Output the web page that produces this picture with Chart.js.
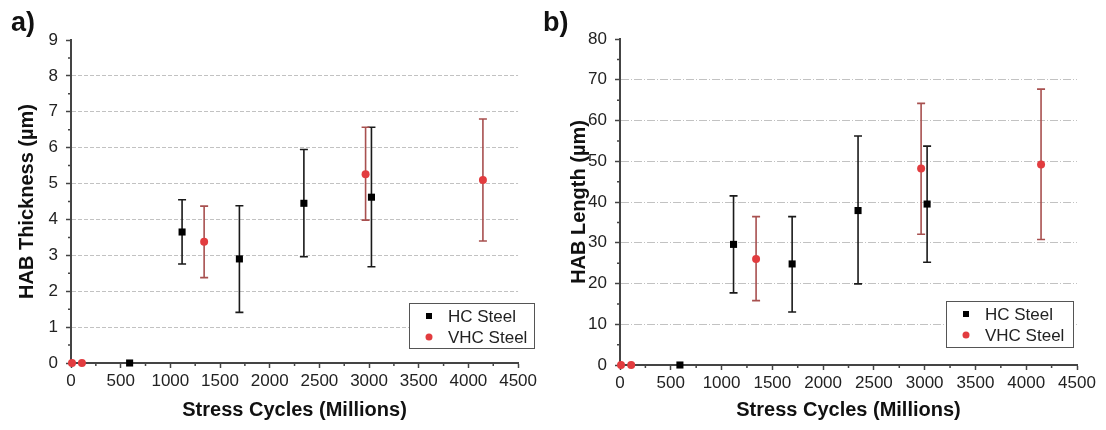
<!DOCTYPE html>
<html>
<head>
<meta charset="utf-8">
<script src="https://cdn.jsdelivr.net/npm/chart.js@4.4.1/dist/chart.umd.min.js"></script>
<style>
  html, body { margin: 0; padding: 0; background: #fff; }
  #wrap { position: relative; width: 1106px; height: 430px; }
  #wrap canvas { position: absolute; top: 0; }
</style>
</head>
<body>
<div id="wrap">
  <canvas id="chartA" width="540" height="430" style="left:0;width:540px;height:430px"></canvas>
  <canvas id="chartB" width="566" height="430" style="left:540px;width:566px;height:430px"></canvas>
</div>
<script>
// ---- data ----
const hcCycles = [590, 1118, 1695, 2344, 3024];
const vhcCycles = [10, 110, 1340, 2965, 4146];

// a) HAB thickness (um)
const hcThickness = [0, 3.65, 2.9, 4.45, 4.62];
const hcThicknessLow = [null, 2.76, 1.41, 2.96, 2.68];
const hcThicknessHigh = [null, 4.55, 4.38, 5.95, 6.57];
const vhcThickness = [0, 0, 3.38, 5.26, 5.1];
const vhcThicknessLow = [null, null, 2.38, 3.98, 3.4];
const vhcThicknessHigh = [null, null, 4.37, 6.57, 6.8];

// b) HAB length (um)
const hcLength = [0, 29.6, 24.8, 37.9, 39.5];
const hcLengthLow = [null, 17.7, 13.0, 19.9, 25.2];
const hcLengthHigh = [null, 41.5, 36.4, 56.2, 53.7];
const vhcLength = [0, 0, 26.0, 48.2, 49.2];
const vhcLengthLow = [null, null, 15.8, 32.1, 30.8];
const vhcLengthHigh = [null, null, 36.4, 64.2, 67.7];

const seriesLabels = ["HC Steel", "VHC Steel"];

const FONT = 'Arial, "Liberation Sans", sans-serif';
const AXIS = "#444";

function toPoints(xs, ys, lo, hi) {
  return xs.map((x, i) => ({ x: x, y: ys[i], lo: lo[i], hi: hi[i] }));
}

// error bars, drawn under the markers
const errorBars = {
  id: "errorBars",
  beforeDatasetsDraw(chart) {
    const ctx = chart.ctx;
    const xs = chart.scales.x, ys = chart.scales.y;
    chart.data.datasets.forEach((ds) => {
      ctx.save();
      ctx.strokeStyle = ds.barColor;
      ctx.lineWidth = 1.6;
      ds.data.forEach((p) => {
        if (p.lo == null) return;
        const x = xs.getPixelForValue(p.x);
        const y1 = ys.getPixelForValue(p.lo);
        const y2 = ys.getPixelForValue(p.hi);
        ctx.beginPath();
        ctx.moveTo(x, y1); ctx.lineTo(x, y2);
        ctx.moveTo(x - 4, y1); ctx.lineTo(x + 4, y1);
        ctx.moveTo(x - 4, y2); ctx.lineTo(x + 4, y2);
        ctx.stroke();
      });
      ctx.restore();
    });
  }
};

// minor ticks + panel letter + boxed legend
const decorations = {
  id: "decorations",
  afterDraw(chart, args, opts) {
    const ctx = chart.ctx;
    const xs = chart.scales.x, ys = chart.scales.y;
    ctx.save();
    ctx.strokeStyle = AXIS;
    ctx.lineWidth = 1.5;
    ctx.beginPath();
    for (let v = xs.min + opts.xMinor; v < xs.max; v += opts.xMinor * 2) {
      const px = xs.getPixelForValue(v);
      ctx.moveTo(px, ys.bottom); ctx.lineTo(px, ys.bottom + 3);
    }
    for (let v = ys.min + opts.yMinor; v < ys.max; v += opts.yMinor * 2) {
      const py = ys.getPixelForValue(v);
      ctx.moveTo(xs.left, py); ctx.lineTo(xs.left - 3, py);
    }
    ctx.stroke();

    // panel letter
    ctx.fillStyle = "#111";
    ctx.font = "bold 27px " + FONT;
    ctx.textBaseline = "alphabetic";
    ctx.textAlign = "left";
    ctx.fillText(opts.letter, opts.letterX, 31);

    // legend box
    const b = opts.legendBox;
    ctx.fillStyle = "#fff";
    ctx.fillRect(b.x, b.y, b.w, b.h);
    ctx.strokeStyle = "#555";
    ctx.lineWidth = 1;
    ctx.strokeRect(b.x + 0.5, b.y + 0.5, b.w, b.h);
    ctx.font = "17px " + FONT;
    ctx.textBaseline = "middle";
    chart.data.datasets.forEach((ds, i) => {
      const cy = b.y + 13 + i * 21;
      ctx.fillStyle = ds.pointBackgroundColor;
      if (ds.pointStyle === "rect") {
        ctx.fillRect(b.x + 17, cy - 3, 6, 6);
      } else {
        ctx.beginPath();
        ctx.arc(b.x + 20, cy, 3.5, 0, Math.PI * 2);
        ctx.fill();
      }
      ctx.fillStyle = "#222";
      ctx.fillText(ds.label, b.x + 39, cy + 1);
    });
    ctx.restore();
  }
};

function makeChart(id, cfg) {
  const yMax = cfg.yMax;
  new Chart(document.getElementById(id), {
    type: "scatter",
    data: {
      datasets: [
        {
          label: seriesLabels[0],
          data: cfg.hc,
          pointStyle: "rect",
          pointRadius: 5,
          pointHoverRadius: 5,
          pointBackgroundColor: "#000",
          pointBorderWidth: 0,
          barColor: "#1a1a1a",
          clip: false,
        },
        {
          label: seriesLabels[1],
          data: cfg.vhc,
          pointStyle: "circle",
          pointRadius: 4,
          pointHoverRadius: 4,
          pointBackgroundColor: "#e23c3f",
          pointBorderWidth: 0,
          barColor: "#a8504f",
          clip: false,
        },
      ],
    },
    options: {
      responsive: false,
      animation: false,
      layout: { padding: { left: 0, top: cfg.top, right: cfg.right, bottom: 0 } },
      scales: {
        x: {
          type: "linear",
          min: 0,
          max: 4500,
          afterFit: (s) => { s.height = 430 - cfg.bottomPx; },
          ticks: {
            stepSize: 500,
            color: "#222",
            padding: 3,
            font: { family: FONT, size: 17 },
            callback: (v) => String(v),
          },
          grid: { drawOnChartArea: false, drawTicks: true, tickLength: 5, tickColor: AXIS, tickWidth: 1.5 },
          border: { color: AXIS, width: 2 },
          title: {
            display: true,
            text: "Stress Cycles (Millions)",
            color: "#111",
            font: { family: FONT, size: 20, weight: "bold" },
            padding: { top: 0, bottom: 8 },
          },
        },
        y: {
          min: 0,
          max: yMax,
          afterFit: (s) => { s.width = cfg.axisX; },
          ticks: {
            stepSize: cfg.yStep,
            color: "#222",
            padding: 8,
            font: { family: FONT, size: 17 },
            callback: (v) => String(v),
          },
          grid: {
            color: (c) => (c.tick && (c.tick.value === 0 || c.tick.value === yMax) ? "rgba(0,0,0,0)" : "#c2c2c2"),
            lineWidth: 1,
            tickLength: 5,
            tickColor: AXIS,
            tickWidth: 1.5,
          },
          border: { color: AXIS, width: 2, dash: cfg.dash },
          title: {
            display: true,
            text: cfg.yTitle,
            color: "#111",
            font: { family: FONT, size: 20, weight: "bold" },
            padding: { top: cfg.titlePad, bottom: 0 },
          },
        },
      },
      plugins: {
        legend: { display: false },
        tooltip: { enabled: false },
        decorations: {
          xMinor: 250,
          yMinor: cfg.yStep / 2,
          letter: cfg.letter,
          letterX: cfg.letterX,
          legendBox: cfg.legendBox,
        },
      },
    },
    plugins: [errorBars, decorations],
  });
}

makeChart("chartA", {
  hc: toPoints(hcCycles, hcThickness, hcThicknessLow, hcThicknessHigh),
  vhc: toPoints(vhcCycles, vhcThickness, vhcThicknessLow, vhcThicknessHigh),
  yMax: 9,
  yStep: 1,
  yTitle: "HAB Thickness (µm)",
  top: 40,
  right: 18,
  bottomPx: 363,
  axisX: 71,
  titlePad: 15,
  dash: [4, 2],
  letter: "a)",
  letterX: 11,
  legendBox: { x: 409, y: 303, w: 125, h: 45 },
});

makeChart("chartB", {
  hc: toPoints(hcCycles, hcLength, hcLengthLow, hcLengthHigh),
  vhc: toPoints(vhcCycles, vhcLength, vhcLengthLow, vhcLengthHigh),
  yMax: 80,
  yStep: 10,
  yTitle: "HAB Length (µm)",
  top: 39,
  right: 29,
  bottomPx: 365,
  axisX: 80,
  titlePad: 27,
  dash: [8, 2, 1, 2],
  letter: "b)",
  letterX: 3,
  legendBox: { x: 406, y: 301, w: 127, h: 46 },
});
</script>
</body>
</html>
